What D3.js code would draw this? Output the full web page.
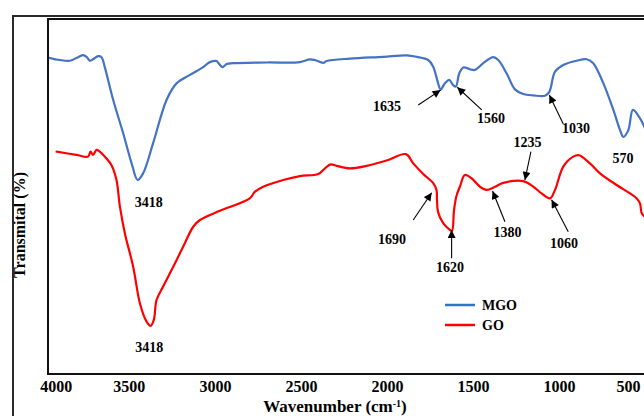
<!DOCTYPE html>
<html><head><meta charset="utf-8">
<script src="https://cdn.jsdelivr.net/npm/d3@7"></script>
<style>html,body{margin:0;padding:0;background:#fff}svg{display:block}</style>
</head><body><svg id="c" width="644" height="416"></svg>
<script>
// ---- data (wavenumber in cm-1, transmittance in arbitrary %) ----
const mgoWavenumber = [3970,3901,3843,3795,3766,3746,3727,3708,3678,3659,3640,3591,3533,3484,3449,3417,3359,3281,3223,3145,3068,3029,2990,2981,2955,2932,2894,2699,2506,2448,2419,2370,2351,2215,2022,1885,1827,1760,1731,1708,1688,1663,1638,1615,1599,1580,1556,1517,1488,1440,1382,1353,1304,1256,1208,1149,1081,1056,1023,975,897,839,801,742,684,645,626,597,570,529,500];
const mgoTransmittance = [89.4,88.7,88.5,89.5,90.1,89.6,88.5,88.9,89.8,89.5,86.7,77.4,68.0,59.5,54.8,56.7,65.2,77.4,82.1,84.5,86.7,88.1,88.4,87.9,86.7,87.6,87.8,88.0,88.1,88.9,88.7,87.9,88.4,89.1,89.6,90.0,89.6,88.7,86.8,83.1,80.4,82.1,83.1,81.6,81.2,84.9,86.6,86.1,85.9,87.8,89.5,88.7,84.9,80.4,79.1,78.7,78.6,79.7,85.4,87.3,88.5,88.9,87.8,82.1,74.6,68.9,67.0,68.9,74.6,72.2,69.4];
const goWavenumber = [3920,3804,3737,3723,3708,3688,3669,3630,3601,3572,3552,3523,3475,3436,3397,3374,3355,3339,3301,3242,3184,3126,3087,2971,2797,2767,2719,2603,2506,2399,2360,2327,2292,2215,2118,2002,1890,1847,1789,1731,1712,1709,1703,1673,1634,1622,1610,1596,1576,1547,1508,1459,1420,1372,1324,1208,1149,1101,1052,1023,975,917,884,820,762,665,587,548,529,519,500];
const goTransmittance = [62.8,61.9,61.4,62.8,61.9,63.3,62.8,60.9,59.0,54.8,47.3,39.7,30.3,20.0,14.8,13.6,15.3,20.9,24.7,30.3,36.0,41.6,43.5,46.1,49.6,51.5,52.9,54.8,55.9,56.5,58.1,59.2,58.8,58.1,58.8,60.3,62.1,59.5,56.5,53.9,52.0,49.2,45.8,42.6,40.7,40.4,46.3,50.3,52.9,56.2,55.3,52.9,52.0,52.9,54.0,54.5,52.9,51.0,49.6,52.0,58.6,61.4,61.8,59.5,56.7,53.4,51.0,49.6,48.2,45.4,44.4];
const xTicks = [4000,3500,3000,2500,2000,1500,1000,500];
const seriesNames = ["MGO","GO"];
// peak labels: label position, optional arrow from -> to (data units)
const peakLabels = ["3418","3418","1635","1560","1030","570","1235","1690","1620","1380","1060"];
const labelWn  = [3384,3381,2000,1395,901,628,1183,1971,1634,1299,971];
const labelT   = [48.6,7.6,75.7,72.4,69.4,60.9,65.6,38.0,30.3,40.0,36.9];
const arrowFromWn = [null,null,1818,1449,975,null,1163,1847,1624,1314,946];
const arrowFromT  = [null,null,76.0,74.6,70.6,null,62.8,43.5,32.7,43.0,40.2];
const arrowToWn   = [null,null,1688,1591,1056,null,1198,1740,1624,1386,1043];
const arrowToT    = [null,null,80.2,81.0,78.8,null,54.8,51.2,40.7,51.7,49.2];

// ---- drawing ----
const W = 644, H = 416;
const L = 48, T = 19, B = 374;
const FONT = "'Liberation Serif','Times New Roman',serif";
const colors = {MGO:"#4472C4", GO:"#FF0000"};
const svg = d3.select("#c");
svg.append("rect").attr("width",W).attr("height",H).attr("fill","#fff");

const x = d3.scaleLinear().domain([3970, 500]).range([L, 645]);
const y = d3.scaleLinear().domain([0, 100]).range([B, 20]);

// y-axis title
svg.append("text")
  .attr("transform","translate(25,225) rotate(-90)")
  .attr("text-anchor","middle")
  .attr("font-family",FONT).attr("font-weight","bold").attr("font-size",16)
  .attr("fill","#000")
  .text("Transmital (%)");

// outer frame
svg.append("path").attr("d",`M13,${H+5} L13,16 L${W+5},16`)
  .attr("fill","none").attr("stroke","#2a2a2a").attr("stroke-width",2);

// inner plot frame
svg.append("path").attr("d",`M${W+5},${T} L${L},${T} L${L},${B} L${W+5},${B}`)
  .attr("fill","none").attr("stroke","#111").attr("stroke-width",2);

// x axis
const ax = svg.append("g").attr("transform",`translate(0,${B})`)
  .call(d3.axisBottom(x).tickValues(xTicks).tickFormat(d3.format("d")).tickSize(0).tickPadding(7));
ax.select(".domain").remove();
ax.selectAll("text").attr("font-family",FONT).attr("font-weight","bold")
  .attr("font-size",16).attr("fill","#000");
ax.selectAll(".tick").filter(d=>d===4000).select("text").attr("text-anchor","start").attr("dx",-3);
ax.selectAll(".tick").filter(d=>d===500).select("text").attr("text-anchor","end").attr("dx",-5);

// x-axis title
const xt = svg.append("text").attr("x",335).attr("y",411.5).attr("text-anchor","middle")
  .attr("font-family",FONT).attr("font-weight","bold").attr("font-size",17).attr("fill","#000");
xt.append("tspan").text("Wavenumber (cm");
xt.append("tspan").attr("font-size",10).attr("dy",-5).text("-1");
xt.append("tspan").attr("dy",5).text(")");

// series
const line = d3.line().x(d=>x(d[0])).y(d=>y(d[1])).curve(d3.curveCatmullRom.alpha(0.5));
svg.append("clipPath").attr("id","pc").append("rect")
  .attr("x",L+1).attr("y",T+1).attr("width",W-L).attr("height",B-T-2);
const series = [
  {name:"MGO", pts: d3.zip(mgoWavenumber, mgoTransmittance)},
  {name:"GO",  pts: d3.zip(goWavenumber, goTransmittance)}
];
svg.append("g").attr("clip-path","url(#pc)").selectAll("path").data(series).join("path")
  .attr("d",d=>line(d.pts)).attr("fill","none")
  .attr("stroke",d=>colors[d.name]).attr("stroke-width",2.2)
  .attr("stroke-linejoin","round").attr("stroke-linecap","round");

// arrow marker
svg.append("defs").append("marker").attr("id","ah")
  .attr("viewBox","0 0 10 10").attr("refX",10).attr("refY",5)
  .attr("markerUnits","userSpaceOnUse").attr("markerWidth",10).attr("markerHeight",8)
  .attr("orient","auto")
  .append("path").attr("d","M0,0 L10,5 L0,10 Z").attr("fill","#000");

// annotations
const ann = svg.append("g");
peakLabels.forEach((t,i)=>{
  ann.append("text").attr("x",x(labelWn[i])).attr("y",y(labelT[i])).attr("dy","0.35em")
    .attr("text-anchor","middle").attr("font-family",FONT).attr("font-weight","bold")
    .attr("font-size",14).attr("fill","#000").text(t);
  if (arrowFromWn[i] !== null) {
    ann.append("line")
      .attr("x1",x(arrowFromWn[i])).attr("y1",y(arrowFromT[i]))
      .attr("x2",x(arrowToWn[i])).attr("y2",y(arrowToT[i]))
      .attr("stroke","#000").attr("stroke-width",1.1).attr("marker-end","url(#ah)");
  }
});

// legend
const lg = svg.append("g");
seriesNames.forEach((n,i)=>{
  const ly = 305 + i*20;
  lg.append("line").attr("x1",445).attr("x2",475).attr("y1",ly).attr("y2",ly)
    .attr("stroke", n==="MGO" ? "#2E75C8" : colors[n]).attr("stroke-width",2.5);
  lg.append("text").attr("x",482).attr("y",ly+4.5)
    .attr("font-family",FONT).attr("font-weight","bold").attr("font-size",14)
    .attr("fill","#000").text(n);
});
</script></body></html>
